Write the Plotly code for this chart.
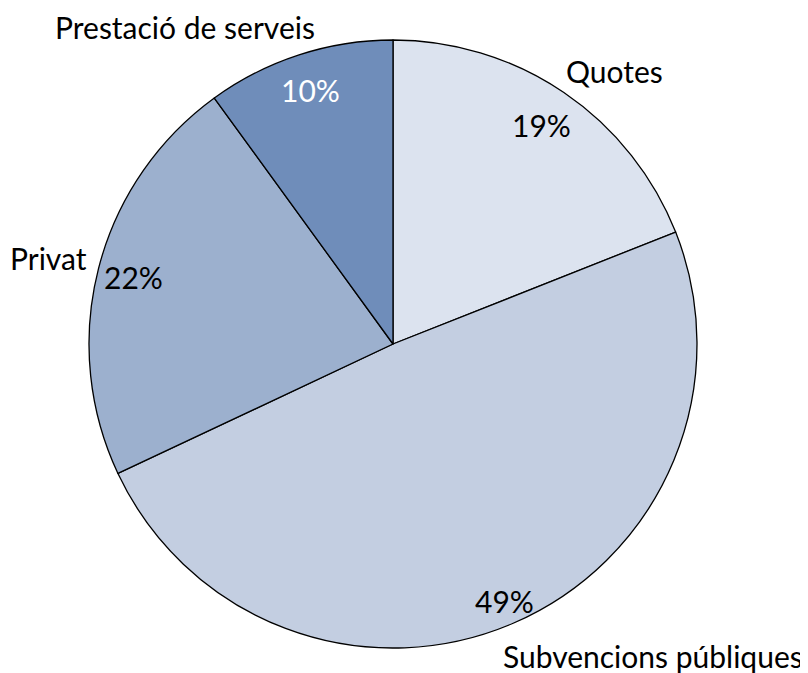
import numpy as np
import plotly.graph_objects as go

categories = ["Quotes", "Subvencions públiques", "Privat", "Prestació de serveis"]
values = [19, 49, 22, 10]
colors = ["#DCE3EF", "#C3CEE1", "#9CB0CE", "#6F8DBA"]
pct_colors = ["black", "black", "black", "white"]

OFF = 8  # page body margin offset
W, H = 808 - OFF, 673 - OFF
cx, cy, R = 393 - OFF, 344 - OFF, 304  # pie centre / radius in pixels

# radial placement of percentage labels (fraction of radius)
pct_radius = [0.87, 0.92, 0.88, 0.88]
# category label positions (pixels, screen)
cat_pos = [(614, 71), (653, 656), (48, 258), (185, 27)]

FONT = "Lato, Calibri, Carlito, sans-serif"
FS = 30

fig = go.Figure(go.Pie(
    labels=categories,
    values=values,
    sort=False,
    direction="clockwise",
    rotation=0,
    marker=dict(colors=colors, line=dict(color="black", width=1.3)),
    textinfo="none",
    hoverinfo="label+percent",
    showlegend=False,
    domain=dict(x=[(cx - R) / W, (cx + R) / W], y=[(H - cy - R) / H, (H - cy + R) / H]),
))

total = sum(values)
cum = np.cumsum([0] + values[:-1])
annotations = []
for i, v in enumerate(values):
    mid = (cum[i] + v / 2) / total * 2 * np.pi
    px = cx + pct_radius[i] * R * np.sin(mid)
    py = cy - pct_radius[i] * R * np.cos(mid)
    annotations.append(dict(
        x=px / W, y=1 - py / H, xref="paper", yref="paper",
        text=f"{round(v / total * 100)}%", showarrow=False,
        xanchor="center", yanchor="middle",
        font=dict(family=FONT, size=FS, color=pct_colors[i]),
    ))
for name, (lx, ly) in zip(categories, cat_pos):
    annotations.append(dict(
        x=(lx - OFF) / W, y=1 - (ly - OFF) / H, xref="paper", yref="paper",
        text=name, showarrow=False, xanchor="center", yanchor="middle",
        font=dict(family=FONT, size=FS, color="black"),
    ))

fig.update_layout(
    width=W, height=H,
    margin=dict(l=0, r=0, t=0, b=0),
    paper_bgcolor="white", plot_bgcolor="white",
    annotations=annotations,
)

fig.write_html("out.html")
